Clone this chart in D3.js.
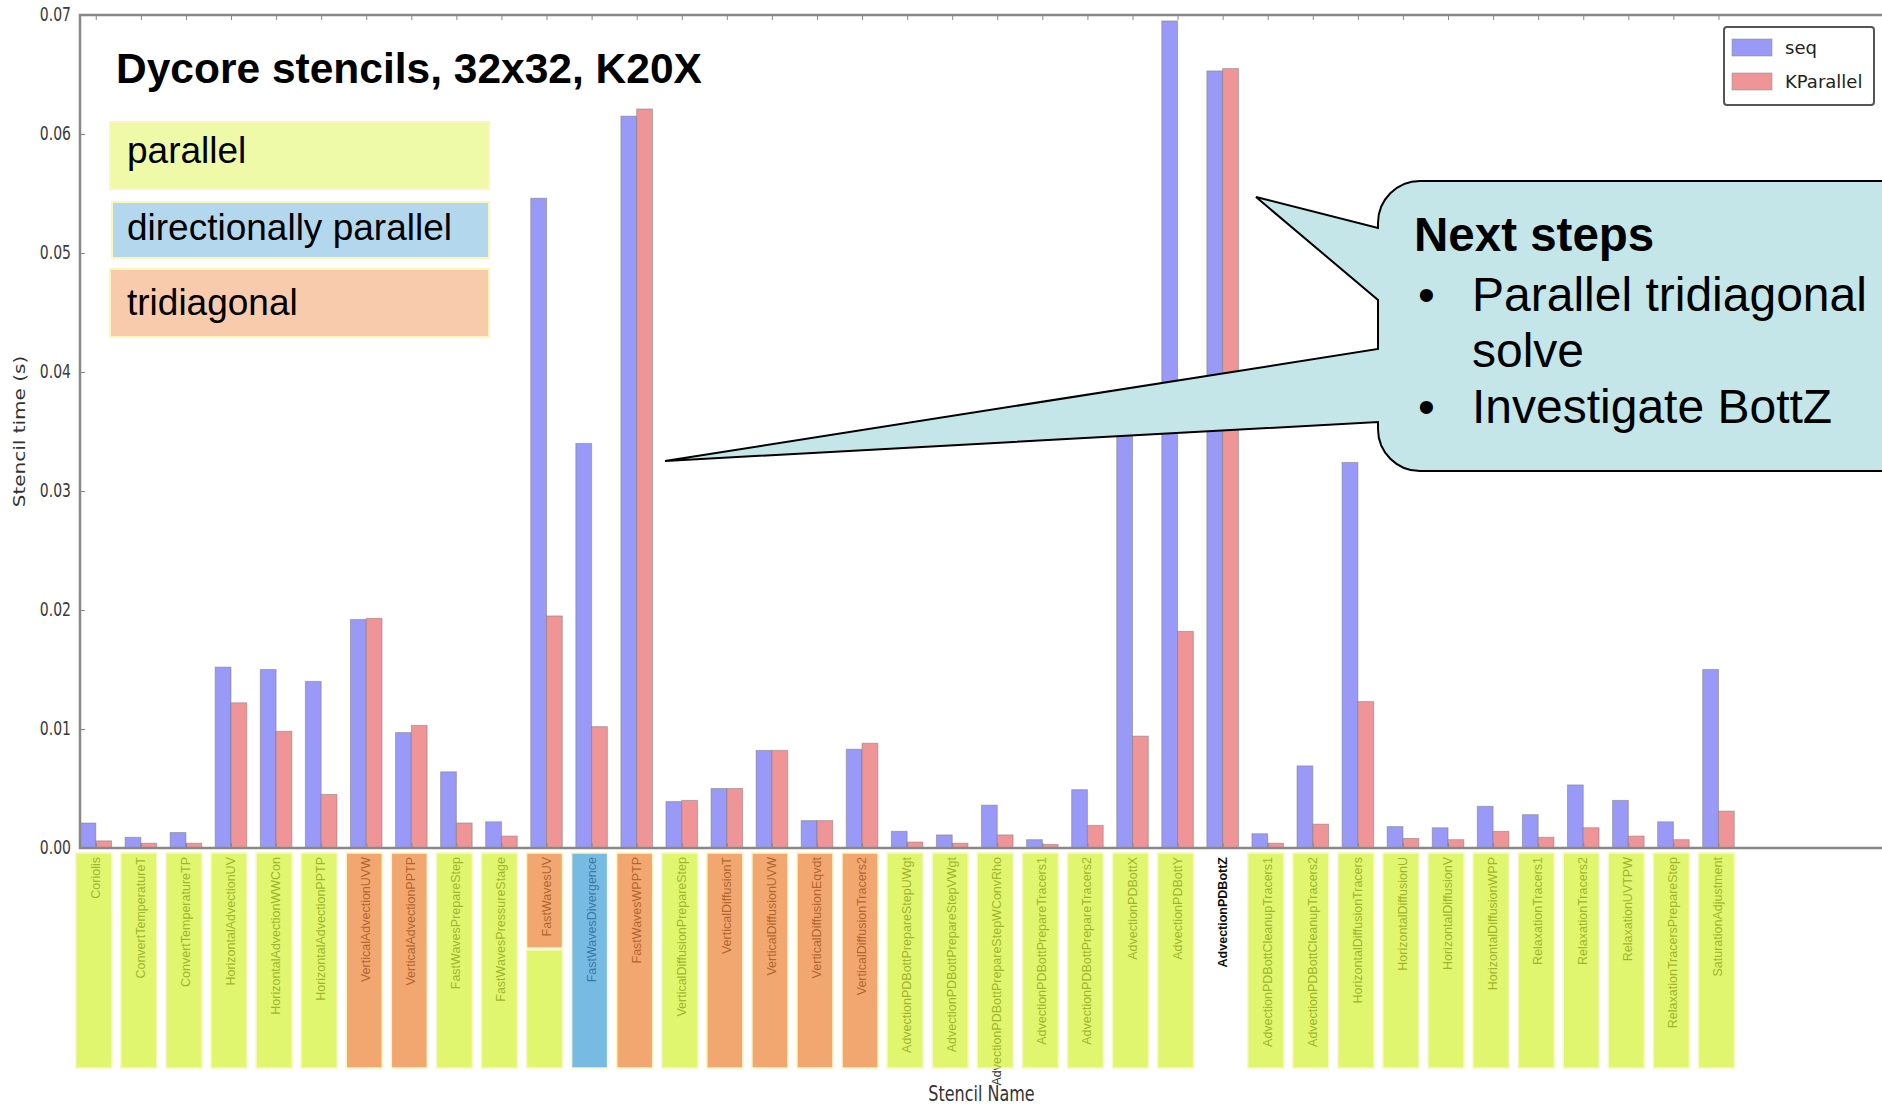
<!DOCTYPE html>
<html>
<head>
<meta charset="utf-8">
<script src="https://cdn.jsdelivr.net/npm/d3@7"></script>
<style>
  body { margin: 0; background: #fff; }
  svg { display: block; }
</style>
</head>
<body>
<div id="chart"></div>
<script>
const stencils = [
  'Coriolis', 'ConvertTemperatureT', 'ConvertTemperatureTP', 'HorizontalAdvectionUV',
  'HorizontalAdvectionWWCon', 'HorizontalAdvectionPPTP', 'VerticalAdvectionUVW', 'VerticalAdvectionPPTP',
  'FastWavesPrepareStep', 'FastWavesPressureStage', 'FastWavesUV', 'FastWavesDivergence',
  'FastWavesWPPTP', 'VerticalDiffusionPrepareStep', 'VerticalDiffusionT', 'VerticalDiffusionUVW',
  'VerticalDiffusionEqvdt', 'VerticalDiffusionTracers2', 'AdvectionPDBottPrepareStepUWgt', 'AdvectionPDBottPrepareStepVWgt',
  'AdvectionPDBottPrepareStepWConvRho', 'AdvectionPDBottPrepareTracers1', 'AdvectionPDBottPrepareTracers2', 'AdvectionPDBottX',
  'AdvectionPDBottY', 'AdvectionPDBottZ', 'AdvectionPDBottCleanupTracers1', 'AdvectionPDBottCleanupTracers2',
  'HorizontalDiffusionTracers', 'HorizontalDiffusionU', 'HorizontalDiffusionV', 'HorizontalDiffusionWPP',
  'RelaxationTracers1', 'RelaxationTracers2', 'RelaxationUVTPW', 'RelaxationTracersPrepareStep',
  'SaturationAdjustment'
]

// stencil time in seconds
const seqTime = [
  0.0021, 0.0009, 0.0013, 0.0152, 0.0150, 0.0140, 0.0192, 0.0097,
  0.0064, 0.0022, 0.0546, 0.0340, 0.0615, 0.0039, 0.0050, 0.0082,
  0.0023, 0.0083, 0.0014, 0.0011, 0.0036, 0.0007, 0.0049, 0.0360,
  0.0695, 0.0653, 0.0012, 0.0069, 0.0324, 0.0018, 0.0017, 0.0035,
  0.0028, 0.0053, 0.0040, 0.0022, 0.0150
]
const kparTime = [
  0.0006, 0.0004, 0.0004, 0.0122, 0.0098, 0.0045, 0.0193, 0.0103,
  0.0021, 0.0010, 0.0195, 0.0102, 0.0621, 0.0040, 0.0050, 0.0082,
  0.0023, 0.0088, 0.0005, 0.0004, 0.0011, 0.0003, 0.0019, 0.0094,
  0.0182, 0.0655, 0.0004, 0.0020, 0.0123, 0.0008, 0.0007, 0.0014,
  0.0009, 0.0017, 0.0010, 0.0007, 0.0031
]

// p = parallel, d = directionally parallel, t = tridiagonal, tp = both, n = not marked
const stencilKind = [
  'p', 'p', 'p', 'p', 'p', 'p', 't', 't', 'p', 'p', 'tp', 'd', 't', 'p', 't', 't',
  't', 't', 'p', 'p', 'p', 'p', 'p', 'p', 'p', 'n', 'p', 'p', 'p', 'p', 'p', 'p',
  'p', 'p', 'p', 'p', 'p'
]

const yTicks = [0, 0.01, 0.02, 0.03, 0.04, 0.05, 0.06, 0.07]
const seriesNames = ['seq', 'KParallel']
const kindNames = ['parallel', 'directionally parallel', 'tridiagonal']
const chartTitle = 'Dycore stencils, 32x32, K20X'
const calloutTitle = 'Next steps'
const calloutItems = [['Parallel tridiagonal', 'solve'], ['Investigate BottZ']]

const width = 1882
const height = 1108
const margin = { top: 15, left: 80, bottom: 260 }
const barW = 0.35

// colours as they look on white
const kindColor = { p: '#e0f66e', t: '#f2a770', d: '#78bce4' }
const kindLegendColor = ['#eefaa8', '#b3d8ee', '#f7cbac']
const seriesColor = ['#9999f8', '#ef9598']

let svg = d3.select('#chart').append('svg')
  .attr('width', width)
  .attr('height', height)
  .style('font-family', 'Liberation Sans, Arial, sans-serif')

svg.append('rect').attr('width', width).attr('height', height).attr('fill', '#fff')

let x = d3.scaleLinear().domain([0, 40]).range([margin.left, 1883])
let y = d3.scaleLinear().domain([0, 0.07]).range([height - margin.bottom, margin.top])
let y0 = y(0)

let data = stencils.map((name, i) => ({ name, i, seq: seqTime[i], kpar: kparTime[i], kind: stencilKind[i] }))

// bars
let groups = svg.append('g').attr('class', 'bars')
  .selectAll('g').data(data).enter().append('g')

groups.append('rect')
  .attr('x', d => x(d.i))
  .attr('y', d => y(d.seq))
  .attr('width', d => x(d.i + barW) - x(d.i))
  .attr('height', d => y0 - y(d.seq))
  .attr('fill', seriesColor[0])
  .attr('stroke', '#777').attr('stroke-opacity', 0.5).attr('stroke-width', 1)

groups.append('rect')
  .attr('x', d => x(d.i + barW))
  .attr('y', d => y(d.kpar))
  .attr('width', d => x(d.i + 2 * barW) - x(d.i + barW))
  .attr('height', d => y0 - y(d.kpar))
  .attr('fill', seriesColor[1])
  .attr('stroke', '#777').attr('stroke-opacity', 0.5).attr('stroke-width', 1)

// spines
svg.append('rect')
  .attr('x', margin.left).attr('y', margin.top)
  .attr('width', 1900 - margin.left).attr('height', y0 - margin.top)
  .attr('fill', 'none').attr('stroke', '#888').attr('stroke-width', 2.5)

// y axis, ticks pointing inward
let yAxis = svg.append('g')
  .attr('transform', 'translate(' + margin.left + ',0)')
  .call(d3.axisLeft(y).tickValues(yTicks).tickFormat(d3.format('.2f'))
    .tickSizeInner(-5).tickSizeOuter(0).tickPadding(9))
yAxis.select('.domain').remove()
yAxis.selectAll('line').attr('stroke', '#888')
yAxis.selectAll('text')
  .style('font-family', 'DejaVu Sans, sans-serif')
  .style('font-size', '14px')
  .attr('fill', '#3a3a3a')
  .attr('dy', null)
  .attr('transform', 'translate(0,5) scale(1,1.35)')

// x ticks on top and bottom spines
let tickX = data.map(d => d.i + barW)
let xTop = svg.append('g')
  .attr('transform', 'translate(0,' + margin.top + ')')
  .call(d3.axisTop(x).tickValues(tickX).tickSizeInner(-5).tickSizeOuter(0).tickFormat(''))
xTop.select('.domain').remove()
xTop.selectAll('line').attr('stroke', '#888')

let xBottom = svg.append('g')
  .attr('transform', 'translate(0,' + y0 + ')')
  .call(d3.axisBottom(x).tickValues(tickX).tickSizeInner(-5).tickSizeOuter(0).tickFormat(''))
xBottom.select('.domain').remove()
xBottom.selectAll('line').attr('stroke', '#888')

// stencil names, rotated, read bottom to top
let boxTop = 853
let boxBottom = 1068
let labels = svg.append('g').attr('class', 'names')
labels.selectAll('text').data(data).enter().append('text')
  .attr('transform', d => 'translate(' + (x(d.i + barW) + 4) + ',' + (boxTop + 4) + ') rotate(-90)')
  .attr('text-anchor', 'end')
  .style('font-size', '12.5px')
  .attr('fill', d => d.kind === 'n' ? '#111' : '#333')
  .style('font-weight', d => d.kind === 'n' ? 'bold' : 'normal')
  .text(d => d.name)

// translucent colour boxes over the names
let boxW = 36
let alpha = 0.68
let overlay = svg.append('g').attr('class', 'kind-boxes').attr('opacity', alpha)
let overlayFill = c => {
  let t = d3.rgb(c)
  return d3.rgb((t.r - (1 - alpha) * 255) / alpha, (t.g - (1 - alpha) * 255) / alpha, (t.b - (1 - alpha) * 255) / alpha).toString()
}
let boxes = []
data.forEach(d => {
  let cx = x(d.i + barW)
  if (d.kind === 'n') return
  if (d.kind === 'tp') {
    boxes.push({ cx, y0: boxTop, y1: 948, kind: 't' })
    boxes.push({ cx, y0: 950, y1: boxBottom, kind: 'p' })
  } else {
    boxes.push({ cx, y0: boxTop, y1: boxBottom, kind: d.kind })
  }
})
overlay.selectAll('rect').data(boxes).enter().append('rect')
  .attr('x', b => b.cx - boxW / 2 - 2)
  .attr('y', b => b.y0)
  .attr('width', boxW)
  .attr('height', b => b.y1 - b.y0)
  .attr('fill', b => overlayFill(kindColor[b.kind]))
  .attr('stroke', '#fbf3a2').attr('stroke-width', 1.5)

// axis titles
svg.append('text')
  .attr('transform', 'translate(' + x(20) + ',1101) scale(1,1.3)')
  .attr('text-anchor', 'middle')
  .style('font-family', 'DejaVu Sans, sans-serif')
  .style('font-size', '16px')
  .attr('fill', '#333')
  .text('Stencil Name')

svg.append('text')
  .attr('transform', 'translate(25,' + ((margin.top + y0) / 2) + ') rotate(-90) scale(1.25,1)')
  .attr('text-anchor', 'middle')
  .style('font-family', 'DejaVu Sans, sans-serif')
  .style('font-size', '16px')
  .attr('fill', '#333')
  .text('Stencil time (s)')

// series legend
let legend = svg.append('g').attr('transform', 'translate(1724,27)')
legend.append('rect')
  .attr('width', 150).attr('height', 78).attr('rx', 3)
  .attr('fill', '#fff').attr('stroke', '#555').attr('stroke-width', 2)
seriesNames.forEach((s, i) => {
  legend.append('rect')
    .attr('x', 8).attr('y', 12 + i * 34).attr('width', 40).attr('height', 17)
    .attr('fill', seriesColor[i]).attr('stroke', '#888').attr('stroke-opacity', 0.5)
  legend.append('text')
    .attr('x', 61).attr('y', 27 + i * 34)
    .style('font-family', 'DejaVu Sans, sans-serif')
    .style('font-size', '18px')
    .attr('fill', '#222')
    .text(s)
})

// title and kind legend
svg.append('text')
  .attr('x', 116).attr('y', 83)
  .style('font-size', '42.5px').style('font-weight', 'bold')
  .attr('fill', '#000')
  .text(chartTitle)

let kindBoxes = [
  { x: 110, y: 122, h: 67, base: 163 },
  { x: 112, y: 202, h: 56, base: 240 },
  { x: 110, y: 269, h: 68, base: 315 }
]
kindNames.forEach((k, i) => {
  let b = kindBoxes[i]
  svg.append('rect')
    .attr('x', b.x).attr('y', b.y).attr('width', 489 - b.x).attr('height', b.h)
    .attr('fill', kindLegendColor[i]).attr('stroke', '#fcf6b8').attr('stroke-width', 2)
  svg.append('text')
    .attr('x', 127).attr('y', b.base)
    .style('font-size', '37px')
    .attr('fill', '#000')
    .text(k)
})

// callout with two pointers
let bx = 1378, by0 = 181, by1 = 471, r = 42
let callout = d3.path()
callout.moveTo(bx + r, by0)
callout.lineTo(1960, by0)
callout.lineTo(1960, by1)
callout.lineTo(bx + r, by1)
callout.arcTo(bx, by1, bx, by1 - r, r)
callout.lineTo(bx, 422)
callout.lineTo(665, 461)
callout.lineTo(bx, 349)
callout.lineTo(bx, 300)
callout.lineTo(1256, 197)
callout.lineTo(bx, 228)
callout.lineTo(bx, by0 + r)
callout.arcTo(bx, by0, bx + r, by0, r)
callout.closePath()

svg.append('path')
  .attr('d', callout.toString())
  .attr('fill', '#c5e6e8')
  .attr('stroke', '#000')
  .attr('stroke-width', 2)
  .attr('stroke-linejoin', 'miter')

svg.append('text')
  .attr('x', 1414).attr('y', 251)
  .style('font-size', '47.5px').style('font-weight', 'bold')
  .attr('fill', '#000')
  .text(calloutTitle)

let lineY = 311
calloutItems.forEach(item => {
  svg.append('text')
    .attr('x', 1418).attr('y', lineY)
    .style('font-size', '48px')
    .attr('fill', '#000')
    .text('\u2022')
  item.forEach(line => {
    svg.append('text')
      .attr('x', 1472).attr('y', lineY)
      .style('font-size', '48px')
      .attr('fill', '#000')
      .text(line)
    lineY += 56
  })
})
</script>
</body>
</html>
